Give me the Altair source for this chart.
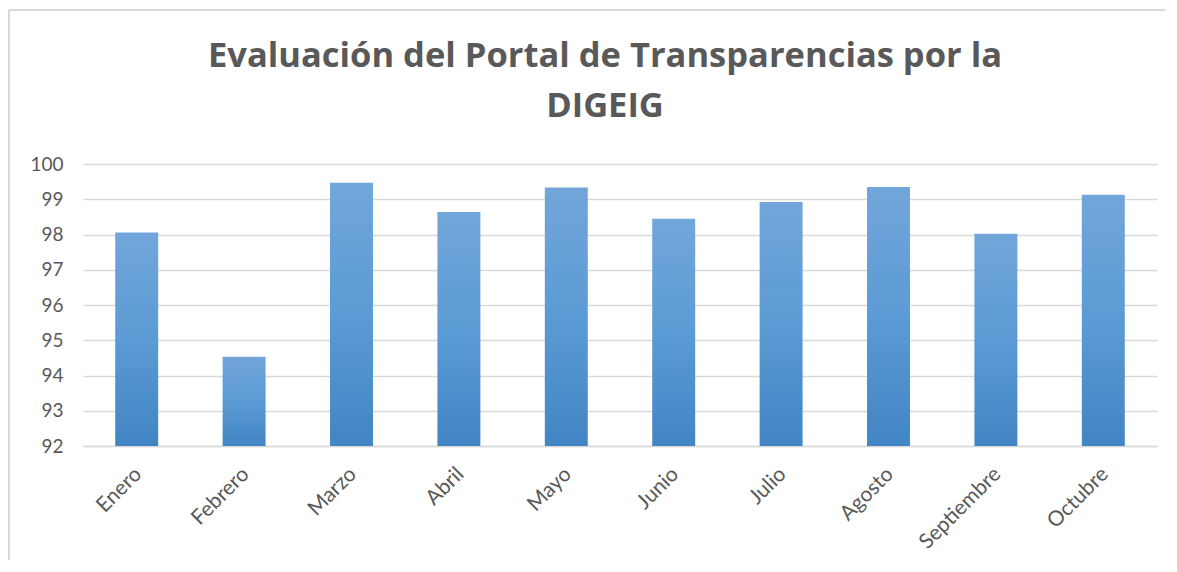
import altair as alt
import pandas as pd

meses = ["Enero", "Febrero", "Marzo", "Abril", "Mayo", "Junio", "Julio",
         "Agosto", "Septiembre", "Octubre"]
valores = [98.06, 94.53, 99.47, 98.64, 99.33, 98.45, 98.92, 99.35, 98.02, 99.13]
ticks_y = [92, 93, 94, 95, 96, 97, 98, 99, 100]

df = pd.DataFrame({"mes": meses, "valor": valores})

FONT = "Lato"
TITLE_FONT = "Open Sans"
TXT = "#595959"
FRAME = "#d9d9d9"

gradient = alt.Gradient(
    gradient="linear",
    stops=[
        alt.GradientStop(color="#72a6da", offset=0),
        alt.GradientStop(color="#5b9bd5", offset=0.5),
        alt.GradientStop(color="#4285c4", offset=1),
    ],
    x1=0, x2=0, y1=0, y2=1,
)

bars = alt.Chart(df).mark_bar(color=gradient).encode(
    x=alt.X(
        "mes:N", sort=meses,
        scale=alt.Scale(paddingInner=0.6, paddingOuter=0.3),
        axis=alt.Axis(
            title=None, labelAngle=-45, labelFont=FONT, labelFontSize=21,
            labelColor=TXT, ticks=False, domain=True, domainColor=FRAME,
            domainWidth=1.5, labelPadding=17, labelOffset=-6, grid=False,
        ),
    ),
    y=alt.Y(
        "valor:Q",
        scale=alt.Scale(domain=[92, 100], zero=False, nice=False),
        axis=alt.Axis(
            title=None, values=ticks_y, labelFont=FONT, labelFontSize=19,
            labelColor=TXT, ticks=False, domain=False, grid=True,
            gridColor=FRAME, gridWidth=1.5, labelPadding=20,
        ),
    ),
    y2=alt.datum(92),
)

one = pd.DataFrame({"f": [0]})
frame_top = alt.Chart(one).mark_rule(color=FRAME, strokeWidth=2).encode(
    x=alt.value(-74), x2=alt.value(1300), y=alt.value(-154),
)
frame_left = alt.Chart(one).mark_rule(color=FRAME, strokeWidth=2).encode(
    x=alt.value(-74), y=alt.value(-154), y2=alt.value(800),
)

chart = alt.layer(frame_top, frame_left, bars).properties(
    width=1074,
    height=282,
    padding={"left": 75, "top": 156, "right": 8, "bottom": 114},
    autosize=alt.AutoSizeParams(type="none"),
    title=alt.Title(
        ["Evaluación del Portal de Transparencias por la", "DIGEIG"],
        font=TITLE_FONT, fontSize=34.5, fontWeight="bold", color=TXT,
        anchor="middle", lineHeight=50, offset=-115, dx=-15,
    ),
).configure(background="white").configure_view(stroke=None, strokeWidth=0)

chart.save("out.html", embed_options={"renderer": "svg", "actions": False})
